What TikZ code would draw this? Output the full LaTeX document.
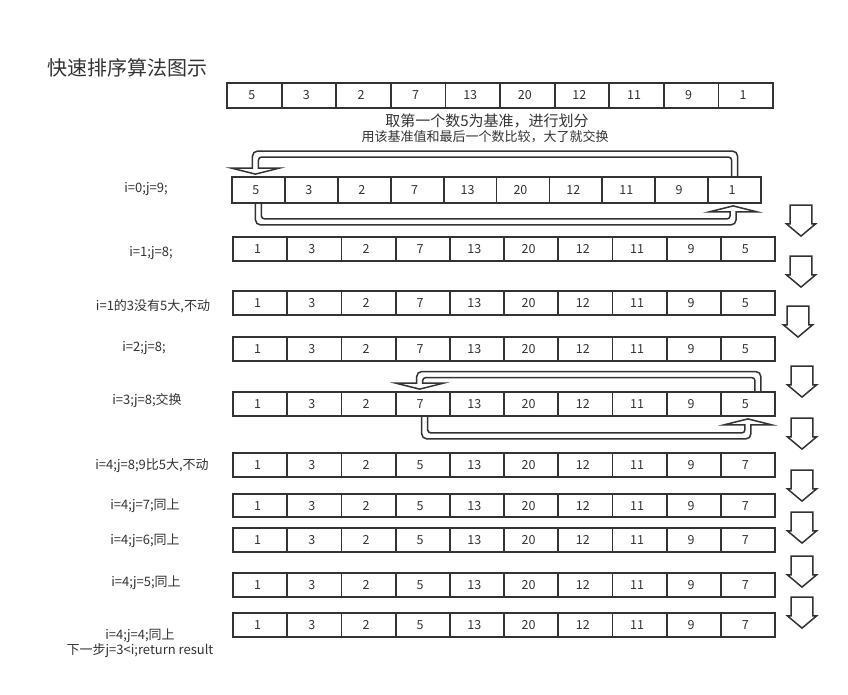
\documentclass[tikz,border=0pt]{standalone}
\usepackage{fontspec}
\setmainfont{Noto Sans CJK SC}
\usetikzlibrary{shapes.arrows,calc}
\definecolor{ink}{HTML}{333333}
\tikzset{
  cell/.style={draw=ink, line width=1.8pt, text=ink, font=\fontsize{12.5}{14}\selectfont, inner sep=0pt,
    text height=9pt, text depth=0pt},
  swap/.style={draw=ink, line width=1.5pt},
  dnarrow/.style={single arrow, draw=ink, line width=1.5pt, fill=white, shape border rotate=270,
    minimum height=31pt, minimum width=29pt, inner sep=5.5pt, single arrow head extend=2pt,
    single arrow tip angle=100},
  lbl/.style={text=ink, font=\fontsize{13}{15}\selectfont, align=center, inner sep=0pt},
}
\newcommand\cellrow[6]{%
  \pgfmathsetmacro\cw{(#3-#2)/10}%
  \pgfmathsetmacro\ch{#5-#4}%
  \pgfmathsetmacro\cy{(#4+#5)/2}%
  \foreach \v [count=\i] in {#6}{%
    \node[cell, minimum width=\cw pt, minimum height=\ch pt] (#1c\i) at ({#2+(\i-0.5)*\cw},\cy) {\kern-5pt\v};
  }}
% #1 from node, #2 dx, #3 to node (head), #4 dx, #5 centre line height above row top
\newcommand\swaptop[5]{%
  \draw[swap] let \p1=(#1.north), \p2=(#3.north) in
    (\x1+#2pt+3pt,\y1) [rounded corners=5pt]
    -- (\x1+#2pt+3pt,\y1+#5pt+3pt)
    -- (\x2+#4pt-3pt,\y1+#5pt+3pt) [sharp corners]
    -- (\x2+#4pt-3pt,\y2+8pt) -- (\x2+#4pt-24pt,\y2+8pt) -- (\x2+#4pt,\y2+2pt)
    -- (\x2+#4pt+24pt,\y2+8pt) -- (\x2+#4pt+3pt,\y2+8pt) [rounded corners=3pt]
    -- (\x2+#4pt+3pt,\y1+#5pt-3pt)
    -- (\x1+#2pt-3pt,\y1+#5pt-3pt) [sharp corners]
    -- (\x1+#2pt-3pt,\y1);}
% #1 from node, #2 dx, #3 to node (head), #4 dx, #5 centre line depth below row bottom
\newcommand\swapbot[5]{%
  \draw[swap] let \p1=(#1.south), \p2=(#3.south) in
    (\x1+#2pt-3pt,\y1) [rounded corners=5pt]
    -- (\x1+#2pt-3pt,\y1-#5pt-3pt)
    -- (\x2+#4pt+3pt,\y1-#5pt-3pt) [sharp corners]
    -- (\x2+#4pt+3pt,\y2-8pt) -- (\x2+#4pt+24pt,\y2-8pt) -- (\x2+#4pt,\y2-2pt)
    -- (\x2+#4pt-24pt,\y2-8pt) -- (\x2+#4pt-3pt,\y2-8pt) [rounded corners=3pt]
    -- (\x2+#4pt-3pt,\y1-#5pt+3pt)
    -- (\x1+#2pt+3pt,\y1-#5pt+3pt) [sharp corners]
    -- (\x1+#2pt+3pt,\y1);}
\begin{document}
\begin{tikzpicture}[x=1pt,y=-1pt]
\fill[white] (0,0) rectangle (848,695);
\useasboundingbox (0,0) rectangle (848,695);

\node[anchor=west, text=ink, font=\fontsize{20}{22}\selectfont, inner sep=0pt] (title) at (47,68) {快速排序算法图示};

\cellrow{r0}{227}{773}{83}{108}{5,3,2,7,13,20,12,11,9,1}
\node[text=ink, font=\fontsize{15}{17}\selectfont, inner sep=0pt] (desc1) at (487,121) {取第一个数5为基准，进行划分};
\node[text=ink, font=\fontsize{13}{15}\selectfont, inner sep=0pt] (desc2) at (485,137) {用该基准值和最后一个数比较，大了就交换};

\cellrow{r1}{232}{761}{177}{203}{5,3,2,7,13,20,12,11,9,1}
\cellrow{r2}{233}{775}{237}{261}{1,3,2,7,13,20,12,11,9,5}
\cellrow{r3}{233}{775}{291}{315}{1,3,2,7,13,20,12,11,9,5}
\cellrow{r4}{233}{775}{337}{361}{1,3,2,7,13,20,12,11,9,5}
\cellrow{r5}{233}{775}{392}{416}{1,3,2,7,13,20,12,11,9,5}
\cellrow{r6}{233}{775}{453}{477}{1,3,2,5,13,20,12,11,9,7}
\cellrow{r7}{233}{775}{494}{517}{1,3,2,5,13,20,12,11,9,7}
\cellrow{r8}{233}{775}{528}{552}{1,3,2,5,13,20,12,11,9,7}
\cellrow{r9}{233}{775}{573}{597}{1,3,2,5,13,20,12,11,9,7}
\cellrow{r10}{233}{775}{613}{637}{1,3,2,5,13,20,12,11,9,7}

\swaptop{r1c10}{0}{r1c1}{-3}{22}
\swapbot{r1c1}{0}{r1c10}{-1.5}{18}
\swaptop{r5c10}{10}{r5c4}{-3}{16.5}
\swapbot{r5c4}{2}{r5c10}{0}{19}

\node[lbl] (l1) at (146,189) {i=0;j=9;};
\node[lbl] (l2) at (151,253) {i=1;j=8;};
\node[lbl] (l3) at (153,306) {i=1的3没有5大,不动};
\node[lbl] (l4) at (144,348) {i=2;j=8;};
\node[lbl] (l5) at (147,401) {i=3;j=8;交换};
\node[lbl] (l6) at (152,466) {i=4;j=8;9比5大,不动};
\node[lbl] (l7) at (145,506) {i=4;j=7;同上};
\node[lbl] (l8) at (145,541) {i=4;j=6;同上};
\node[lbl] (l9) at (146,583) {i=4;j=5;同上};
\node[lbl] (l10) at (140,643) {i=4;j=4;同上\\下一步j=3<i;return result};

\node[dnarrow] (a1) at (801,216) {};
\node[dnarrow] (a2) at (801,267) {};
\node[dnarrow] (a3) at (798,317) {};
\node[dnarrow] (a4) at (802,377) {};
\node[dnarrow] (a5) at (802,429) {};
\node[dnarrow] (a6) at (802,481) {};
\node[dnarrow] (a7) at (802,523) {};
\node[dnarrow] (a8) at (802,567) {};
\node[dnarrow] (a9) at (802,608) {};
\end{tikzpicture}
\end{document}
